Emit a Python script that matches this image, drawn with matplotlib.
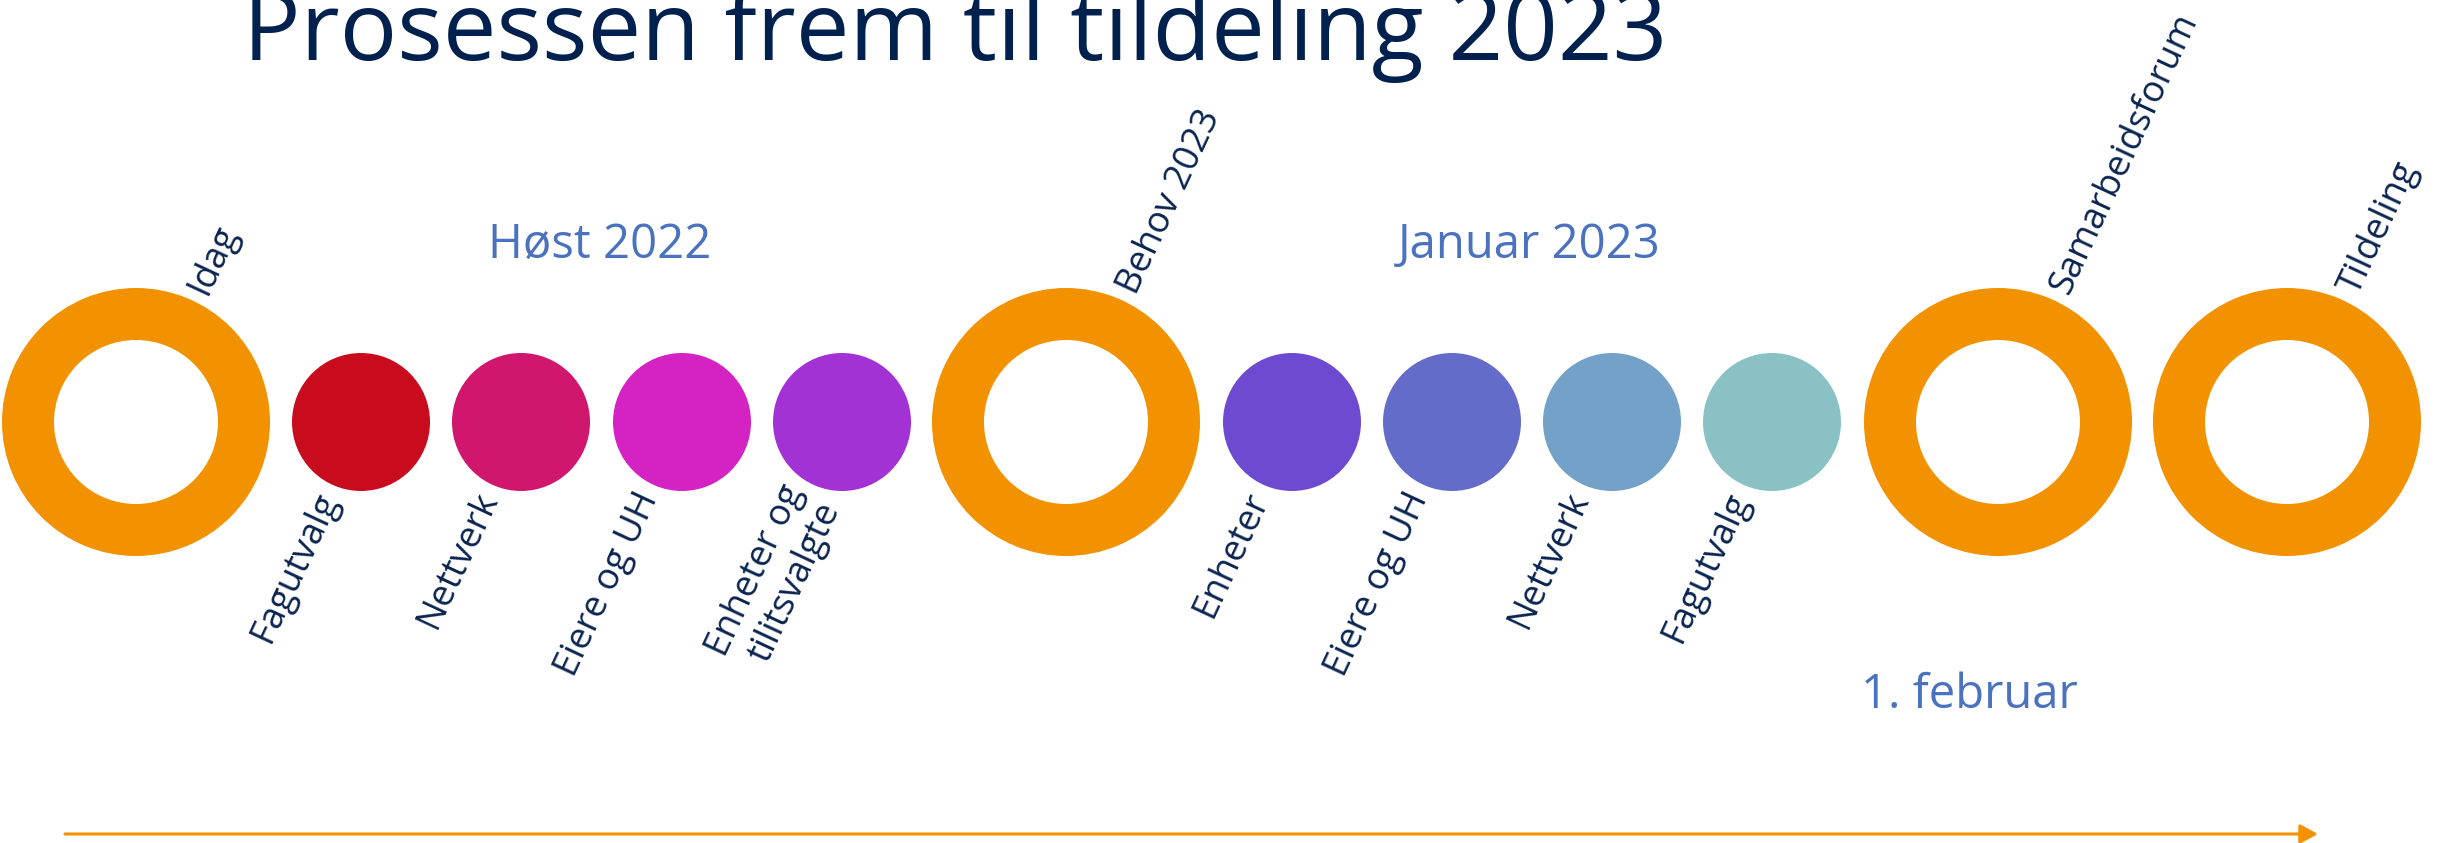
import matplotlib
matplotlib.use("Agg")
import numpy as np
import matplotlib.pyplot as plt
from matplotlib.patches import Circle, Wedge

plt.rcParams['font.family'] = ['Open Sans', 'DejaVu Sans']

title = "Prosessen frem til tildeling 2023"

# steps along the timeline, left to right
steps = ["Idag", "Fagutvalg", "Nettverk", "Eiere og UH", "Enheter og\ntilitsvalgte",
         "Behov 2023", "Enheter", "Eiere og UH", "Nettverk", "Fagutvalg",
         "Samarbeidsforum", "Tildeling"]
milestone = [True, False, False, False, False,
             True, False, False, False, False,
             True, True]
# position on the timeline (px)
timeline_x = [136, 361, 521, 682, 842, 1066, 1292, 1452, 1612, 1772, 1998, 2287]
step_colors = ["#F39200", "#C80C1E", "#D1166E", "#D522C2", "#A232D4",
               "#F39200", "#6E4AD0", "#636DC9", "#73A1C7", "#89C1C4",
               "#F39200", "#F39200"]

periods = ["Høst 2022", "Januar 2023", "1. februar"]

navy = "#0A2450"
blue_txt = "#4A72BE"
orange = "#F39200"

W, H = 2450, 843
fig = plt.figure(figsize=(W / 100, H / 100), dpi=100)
ax = fig.add_axes([0, 0, 1, 1])
ax.set_xlim(0, W)
ax.set_ylim(H, 0)
ax.axis("off")

cy = 422
rot = 65
fs = 26.2

for name, big, x, c in zip(steps, milestone, timeline_x, step_colors):
    if big:
        ax.add_patch(Wedge((x, cy), 134, 0, 360, width=52, color=c, lw=0))
        ax.text(x + 70, cy - 126, name, fontsize=fs, color=navy, rotation=rot,
                rotation_mode="anchor", ha="left", va="baseline")
    else:
        ax.add_patch(Circle((x, cy), 69, color=c, lw=0))
        px, py = x - 24, cy + 76
        if "\n" in name:
            px, py = px + 17, py + 8
        ax.text(px, py, name, fontsize=fs, color=navy, rotation=rot,
                rotation_mode="anchor", ha="right", va="baseline",
                multialignment="right", linespacing=1.2)

ax.text(243, 60, title, fontsize=68.9, color="#00214E", ha="left", va="baseline")

ax.text(600, 258, periods[0], fontsize=34, color=blue_txt, ha="center", va="baseline")
ax.text(1529, 258, periods[1], fontsize=34, color=blue_txt, ha="center", va="baseline")
ax.text(1969, 708, periods[2], fontsize=34, color=blue_txt, ha="center", va="baseline")

ax.annotate("", xy=(2318, 834), xytext=(65, 834),
            arrowprops=dict(arrowstyle="-|>,head_length=1.08,head_width=0.58",
                            color=orange, lw=2.2, shrinkA=0, shrinkB=0,
                            mutation_scale=10))

fig.savefig("out.png", dpi=100, facecolor="white")
